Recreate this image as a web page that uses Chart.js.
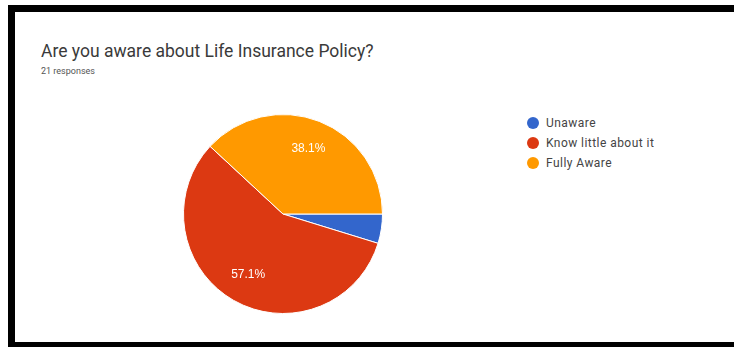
<!DOCTYPE html>
<html>
<head>
<meta charset="utf-8">
<script src="https://cdn.jsdelivr.net/npm/chart.js@4/dist/chart.umd.min.js"></script>
<style>
  html, body { margin: 0; padding: 0; background: #fff; }
  body { width: 734px; height: 347px; position: relative; overflow: hidden; font-family: Roboto, Arial, sans-serif; }
  .frame { position: absolute; left: 8px; top: 5px; width: 760px; height: 342px; box-sizing: border-box;
           border-top: 7px solid #000; border-left: 7px solid #000; border-bottom: 5px solid #000; }
  .title { position: absolute; left: 41px; top: 41px; font-size: 17.5px; color: #3a3a3a; white-space: nowrap; }
  .sub { position: absolute; left: 41px; top: 66px; font-size: 9px; color: #555; white-space: nowrap; }
  #pie { position: absolute; left: 183px; top: 114px; }
  .legend { position: absolute; left: 527px; top: 113px; font-size: 12px; letter-spacing: 0.45px; color: #444; }
  .legend div { height: 20.2px; display: flex; align-items: center; white-space: nowrap; }
  .legend span.dot { width: 12px; height: 12px; border-radius: 50%; display: inline-block; margin-right: 7px; }
</style>
</head>
<body>
<div class="frame"></div>
<div class="title">Are you aware about Life Insurance Policy?</div>
<div class="sub">21 responses</div>
<canvas id="pie" width="200" height="200"></canvas>
<div class="legend" id="legend"></div>
<script>
const labels = ['Unaware', 'Know little about it', 'Fully Aware'];
const responses = [1, 12, 8];
const colors = ['#3366cc', '#dc3912', '#ff9900'];

window.addEventListener("load", () => {
    // legend, built from the same arrays as the pie
    let legend = document.getElementById("legend");
    labels.forEach((l, i) => {
        let row = document.createElement("div");
        row.innerHTML = '<span class="dot" style="background:' + colors[i] + '"></span>' + l;
        legend.appendChild(row);
    });

    // percentage text inside the slices (small slices stay blank)
    const sliceLabels = {
        id: 'sliceLabels',
        afterDatasetsDraw(chart) {
            const ctx = chart.ctx;
            const meta = chart.getDatasetMeta(0);
            const total = responses.reduce((a, b) => a + b, 0);
            ctx.save();
            ctx.fillStyle = '#fff';
            ctx.font = '12px Arial, "Liberation Sans", sans-serif';
            ctx.textAlign = 'center';
            ctx.textBaseline = 'middle';
            meta.data.forEach((arc, i) => {
                const share = responses[i] / total;
                if (share < 0.05) return;
                const p = arc.getProps(['x', 'y', 'startAngle', 'endAngle', 'outerRadius']);
                const mid = (p.startAngle + p.endAngle) / 2;
                const r = p.outerRadius * 0.7;
                ctx.fillText((share * 100).toFixed(1) + '%', p.x + Math.cos(mid) * r, p.y + Math.sin(mid) * r);
            });
            ctx.restore();
        }
    };

    let pie = document.getElementById("pie").getContext("2d");
    new Chart(pie, {
        type: 'pie',
        data: {
            labels: labels,
            datasets: [{
                data: responses,
                backgroundColor: colors,
                borderColor: '#fff',
                borderWidth: 1
            }]
        },
        options: {
            responsive: false,
            animation: false,
            rotation: 90,
            plugins: {
                legend: { display: false },
                tooltip: { enabled: false }
            }
        },
        plugins: [sliceLabels]
    });
});
</script>
</body>
</html>
